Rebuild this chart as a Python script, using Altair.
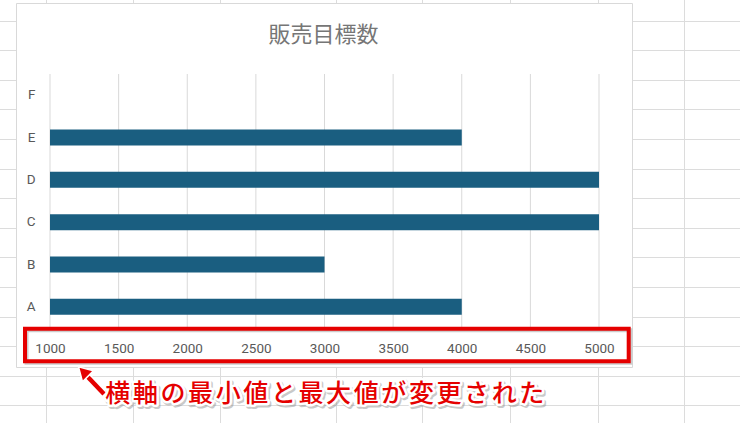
import math
import altair as alt
import pandas as pd

# ---------------- data ----------------
categories = ["A", "B", "C", "D", "E", "F"]
values = [4000, 3000, 5000, 5000, 4000, None]
x_ticks = [1000, 1500, 2000, 2500, 3000, 3500, 4000, 4500, 5000]
x_min, x_max = 1000, 5000
title_text = "販売目標数"
note_text = "横軸の最小値と最大値が変更された"

# ---------------- layout (pixels, absolute in the 740x423 page) ----------------
W, H = 740, 423
OX, OY = 50, 74          # plot origin
PW, PH = 549, 254        # plot size
EXCEL_COLS = [46.5, 133.5, 220.5, 336.5, 422.5, 510.5, 598.5, 684.5]
ROW0, ROWH, NROWS = 21, 29.6, 14
BOX = (16.5, 3.5, 632.5, 367.5)
RED_BOX = (25, 328.7, 628.7, 361.3)
RED = "#e50000"
GRAY_TXT = "#595959"


def rx(x):
    return x - OX


def ry(y):
    return y - OY


dummy = pd.DataFrame({"d": [0]})

# Excel sheet grid lines (decoration)
lines = []
for cx in EXCEL_COLS:
    lines.append({"x1": rx(cx), "x2": rx(cx), "y1": ry(0), "y2": ry(H)})
for k in range(NROWS):
    yy = math.floor(ROW0 + ROWH * k) + 0.5
    lines.append({"x1": rx(0), "x2": rx(W), "y1": ry(yy), "y2": ry(yy)})
lines_df = pd.DataFrame(lines)

excel_grid = alt.Chart(lines_df).mark_rule(color="#dcdcdc", strokeWidth=1).encode(
    x=alt.X("x1:Q", scale=None),
    x2="x2:Q",
    y=alt.Y("y1:Q", scale=None),
    y2="y2:Q",
)

chart_box = alt.Chart(dummy).mark_rect(fill="white", stroke="#d9d9d9", strokeWidth=1).encode(
    x=alt.value(rx(BOX[0])), x2=alt.value(rx(BOX[2])),
    y=alt.value(ry(BOX[1])), y2=alt.value(ry(BOX[3])),
)

# ---------------- main chart ----------------
bars_df = pd.DataFrame({"cat": categories, "v": values})
ticks_df = pd.DataFrame({"t": x_ticks})

x_scale = alt.Scale(domain=[x_min, x_max], nice=False, zero=False)

grid = alt.Chart(ticks_df).mark_rule(color="#d9d9d9", strokeWidth=1).encode(
    x=alt.X("t:Q", scale=x_scale),
    y=alt.value(0),
    y2=alt.value(PH),
)

bars = alt.Chart(bars_df).mark_bar(color="#1a5e80", size=16).encode(
    x=alt.X(
        "v:Q",
        scale=x_scale,
        axis=alt.Axis(
            values=x_ticks, format="d", grid=False, domain=False, ticks=False, tickSize=0,
            labelPadding=20, labelBaseline="middle", labelFontSize=13.5,
            labelColor=GRAY_TXT, labelFont="Roboto", labelFlush=False,
            labelOverlap=False, zindex=1, title="",
        ),
    ),
    x2=alt.datum(x_min),
    y=alt.Y(
        "cat:N",
        scale=alt.Scale(domain=list(reversed(categories)), paddingInner=0, paddingOuter=0),
        axis=alt.Axis(
            domain=False, ticks=False, tickSize=0, labelPadding=15,
            labelFontSize=13.5, labelColor=GRAY_TXT, labelFont="Roboto",
            zindex=1, title="",
        ),
    ),
)

title = alt.Chart(dummy).mark_text(
    text=title_text, font="Noto Sans CJK JP", fontSize=22, color="#767676",
    align="center", baseline="middle",
).encode(x=alt.value(rx(323.5)), y=alt.value(ry(35)))

# ---------------- annotation ----------------
red_shadow = alt.Chart(dummy).mark_rect(filled=False, stroke="#9a9a9a", strokeWidth=4, opacity=0.5).encode(
    x=alt.value(rx(RED_BOX[0] + 1.5)), x2=alt.value(rx(RED_BOX[2] + 1.5)),
    y=alt.value(ry(RED_BOX[1] + 1.5)), y2=alt.value(ry(RED_BOX[3] + 1.5)),
)
red_rect = alt.Chart(dummy).mark_rect(filled=False, stroke=RED, strokeWidth=4).encode(
    x=alt.value(rx(RED_BOX[0])), x2=alt.value(rx(RED_BOX[2])),
    y=alt.value(ry(RED_BOX[1])), y2=alt.value(ry(RED_BOX[3])),
)

arrow_under = alt.Chart(dummy).mark_rule(stroke="white", strokeWidth=7.5, strokeCap="round").encode(
    x=alt.value(rx(104)), y=alt.value(ry(394)), x2=alt.value(rx(85)), y2=alt.value(ry(374)),
)
arrow_shaft = alt.Chart(dummy).mark_rule(stroke=RED, strokeWidth=4.5).encode(
    x=alt.value(rx(104)), y=alt.value(ry(394)), x2=alt.value(rx(85)), y2=alt.value(ry(374)),
)
arrow_head = alt.Chart(dummy).mark_point(
    shape="triangle-up", size=240, angle=315, filled=True, fill=RED,
    stroke="white", strokeWidth=1.5, opacity=1,
).encode(x=alt.value(rx(83.2)), y=alt.value(ry(371.5)))

CH_X0, CH_STEP, CH_Y = 104, 27.6, 394
chars_df = pd.DataFrame({"ch": list(note_text)})
chars_df["px"] = [rx(CH_X0 + CH_STEP * (i + 0.5)) for i in range(len(chars_df))]
chars_df["py"] = ry(CH_Y)


def note_layer(dx, dy, **kw):
    return alt.Chart(chars_df).mark_text(
        font="Noto Sans CJK JP", fontSize=25, fontWeight=500,
        align="center", baseline="middle", dx=dx, dy=dy, **kw,
    ).encode(
        x=alt.X("px:Q", scale=None),
        y=alt.Y("py:Q", scale=None),
        text="ch:N",
    )


note_shadow = note_layer(1.5, 2, fill="#8a8a8a", stroke="#8a8a8a", strokeWidth=5, opacity=0.45, strokeJoin="round")
note_outline = note_layer(0, 0, fill="white", stroke="white", strokeWidth=5, strokeJoin="round")
note_fill = note_layer(0, 0, fill=RED)

chart = alt.layer(
    excel_grid, chart_box, grid, bars, title,
    red_shadow, red_rect,
    arrow_under, arrow_shaft, arrow_head,
    note_shadow, note_outline, note_fill,
).properties(
    width=PW, height=PH,
    padding={"left": OX, "top": OY, "right": W - OX - PW, "bottom": H - OY - PH},
    autosize=alt.AutoSizeParams(type="none"),
    background="white",
).configure_view(strokeWidth=0)

chart.save("out.html", embed_options={"renderer": "svg", "actions": False})
